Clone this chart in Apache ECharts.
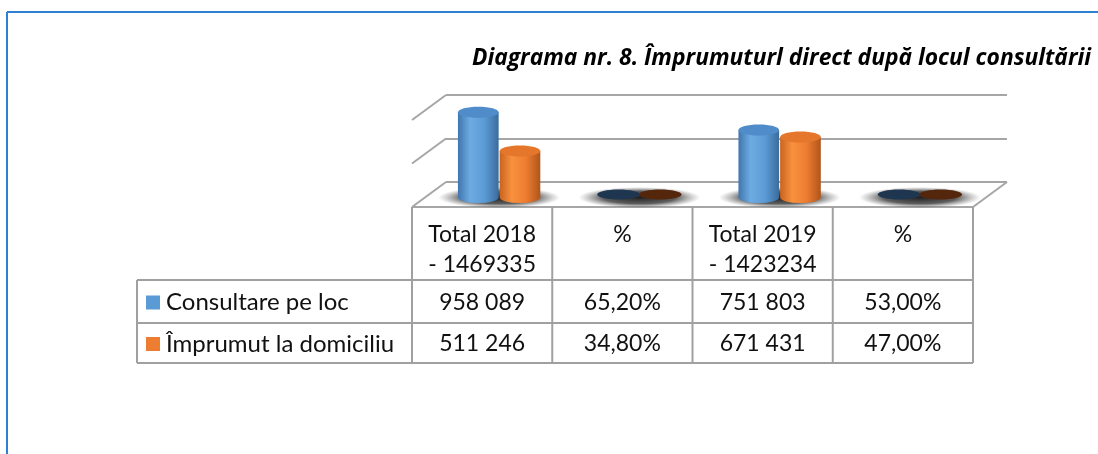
<!DOCTYPE html>
<html><head><meta charset="utf-8">
<script src="https://cdn.jsdelivr.net/npm/echarts@6/dist/echarts.min.js"></script>
<style>html,body{margin:0;padding:0;background:#fff}#c{width:1098px;height:454px}</style>
</head><body><div id="c"></div>
<script>
// ---- data ----
const categories = ['Total 2018\n- 1469335', '%', 'Total 2019\n- 1423234', '%'];
const seriesNames = ['Consultare pe loc', 'Împrumut la domiciliu'];
const consultare = [958089, 0.652, 751803, 0.53];
const imprumut = [511246, 0.348, 671431, 0.47];
const yTicks = [0, 500000, 1000000];
const titleText = 'Diagrama nr. 8. Împrumuturl direct după locul consultării';

// ---- style ----
const DX = -34, DY = 25;
const FONT = 'Lato';
const GRID_COLOR = '#a6a6a6';
const TABLE_COLOR = '#a0a0a0';
const palette = [
  {key:'#5b9bd5', body:['#3f76ad','#6eabe3','#5b9bd5','#3a6c9d'], top:'#4f8cc9', flat:'#1e3650'},
  {key:'#ed7d31', body:['#c9631f','#f8913f','#ed7d31','#b0551a'], top:'#e5772d', flat:'#54260c'}
];
const allSeries = [consultare, imprumut];

function fmt(v){
  if (v < 1) return (v*100).toFixed(2).replace('.', ',') + '%';
  return String(v).replace(/\B(?=(\d{3})+(?!\d))/g, ' ');
}

function cylRender(si){
  return function(params, api){
    const cat = api.value(0), v = api.value(1);
    const top = api.coord([cat, v]);
    const base = api.coord([cat, 0]);
    const band = api.size([1, 0])[0];
    const r = band * 0.145;
    const ry = 5.5;
    const cx = top[0] + DX/2 + (si === 0 ? -1 : 1) * (r + 0.5);
    const yt = top[1] + DY/2 + 1, yb = base[1] + DY/2 + 3;
    const c = palette[si];
    const h = yb - yt;
    const children = [];
    if (h > 4) {
      const grad = new echarts.graphic.LinearGradient(0, 0, 1, 0, [
        {offset:0, color:c.body[0]}, {offset:0.3, color:c.body[1]},
        {offset:0.65, color:c.body[2]}, {offset:1, color:c.body[3]}]);
      children.push({type:'path', shape:{pathData:
        'M' + (cx-r) + ',' + yt + ' L' + (cx-r) + ',' + yb +
        ' A' + r + ',' + ry + ' 0 0 0 ' + (cx+r) + ',' + yb +
        ' L' + (cx+r) + ',' + yt + ' Z'}, style:{fill:grad}});
      children.push({type:'ellipse', shape:{cx:cx, cy:yt, rx:r, ry:ry}, style:{fill:c.top}});
    } else {
      children.push({type:'ellipse', shape:{cx:cx, cy:yb - 3, rx:r + 1, ry:ry - 0.5}, style:{fill:c.flat}});
    }
    return {type:'group', children:children};
  };
}

function shadowRender(params, api){
  const cat = api.value(0);
  const base = api.coord([cat, 0]);
  const cx = base[0] + DX/2;
  const cy = base[1] + DY/2 + 3;
  const g = new echarts.graphic.RadialGradient(0.5, 0.5, 0.5, [
    {offset:0, color:'rgba(20,20,20,0.95)'},
    {offset:0.6, color:'rgba(40,40,40,0.75)'},
    {offset:1, color:'rgba(90,90,90,0)'}]);
  return {type:'circle', x:cx, y:cy, scaleX:5.8, scaleY:1, shape:{cx:0, cy:0, r:10.5}, style:{fill:g}};
}

function wallRender(params, api){
  const v = api.value(1);
  const cs = params.coordSys;
  const y = api.coord([0, v])[1];
  const x0 = cs.x, x1 = cs.x + cs.width;
  const st = {stroke:GRID_COLOR, lineWidth:2};
  const children = [{type:'line', shape:{x1:x0, y1:y, x2:x0+DX, y2:y+DY}, style:st}];
  if (v === 0) {
    children.push({type:'line', shape:{x1:x0+DX, y1:y+DY, x2:x1+DX, y2:y+DY}, style:st});
    children.push({type:'line', shape:{x1:x1, y1:y, x2:x1+DX, y2:y+DY}, style:st});
  }
  return {type:'group', children:children};
}

function tableRender(params, api){
  const cs = params.coordSys;
  const band = cs.width / categories.length;
  const xs = [];
  for (let k = 0; k <= categories.length; k++) xs.push(cs.x + DX + k*band);
  const yF = api.coord([0, 0])[1] + DY;
  const rowY = [yF, yF + 73, yF + 116, yF + 156];
  const xLeft = 137;
  const st = {stroke:TABLE_COLOR, lineWidth:2};
  const ch = [];
  for (let i = 1; i < rowY.length; i++) {
    ch.push({type:'line', shape:{x1:xLeft, y1:rowY[i], x2:xs[xs.length-1], y2:rowY[i]}, style:st});
  }
  xs.forEach(function(x){ ch.push({type:'line', shape:{x1:x, y1:yF, x2:x, y2:rowY[3]}, style:st}); });
  ch.push({type:'line', shape:{x1:xLeft, y1:rowY[1], x2:xLeft, y2:rowY[3]}, style:st});
  const ts = {fontFamily:FONT, fontSize:23, fill:'#111'};
  categories.forEach(function(c, k){
    ch.push({type:'text', x:(xs[k]+xs[k+1])/2, y:yF + 13, style:Object.assign({text:c, align:'center', verticalAlign:'top', lineHeight:30}, ts)});
  });
  allSeries.forEach(function(arr, si){
    const yc = (rowY[si+1] + rowY[si+2]) / 2 + 1;
    ch.push({type:'rect', shape:{x:146, y:yc - 7, width:14, height:14}, style:{fill:palette[si].key}});
    ch.push({type:'text', x:166, y:yc, style:Object.assign({text:seriesNames[si], align:'left', verticalAlign:'middle'}, ts, {fontSize:24})});
    arr.forEach(function(v, k){
      ch.push({type:'text', x:(xs[k]+xs[k+1])/2, y:yc, style:Object.assign({text:fmt(v), align:'center', verticalAlign:'middle'}, ts)});
    });
  });
  return {type:'group', children:ch};
}

const chart = echarts.init(document.getElementById('c'), null, {renderer:'canvas'});
chart.setOption({
  animation:false,
  backgroundColor:'#fff',
  title:{text:titleText, left:467, top:42, textStyle:{fontFamily:'Open Sans', fontStyle:'italic', fontWeight:'bold', fontSize:22.8, color:'#000'}},
  graphic:[
    {type:'line', shape:{x1:7, y1:12, x2:1098, y2:12}, style:{stroke:'#2f80d0', lineWidth:2}},
    {type:'line', shape:{x1:7, y1:12, x2:7, y2:454}, style:{stroke:'#2f80d0', lineWidth:2}}
  ],
  grid:{left:446, right:91, top:95, bottom:272},
  xAxis:{type:'category', data:categories, boundaryGap:true, show:false},
  yAxis:{type:'value', min:0, max:1000000, interval:500000,
    axisLine:{show:false}, axisTick:{show:false}, axisLabel:{show:false},
    splitLine:{lineStyle:{color:GRID_COLOR, width:2}}},
  series:[
    {type:'custom', name:'walls', renderItem:wallRender, data:yTicks.map(function(v){return [0, v];}), z:1, silent:true},
    {type:'custom', name:'shadow', renderItem:shadowRender, data:categories.map(function(c, i){return [i, 0];}), z:2, silent:true},
    {type:'custom', name:seriesNames[0], renderItem:cylRender(0), data:consultare.map(function(v, i){return [i, v];}), z:3},
    {type:'custom', name:seriesNames[1], renderItem:cylRender(1), data:imprumut.map(function(v, i){return [i, v];}), z:4},
    {type:'custom', name:'table', renderItem:tableRender, data:[[0, 0]], z:5, silent:true}
  ]
});
</script>
</body></html>
